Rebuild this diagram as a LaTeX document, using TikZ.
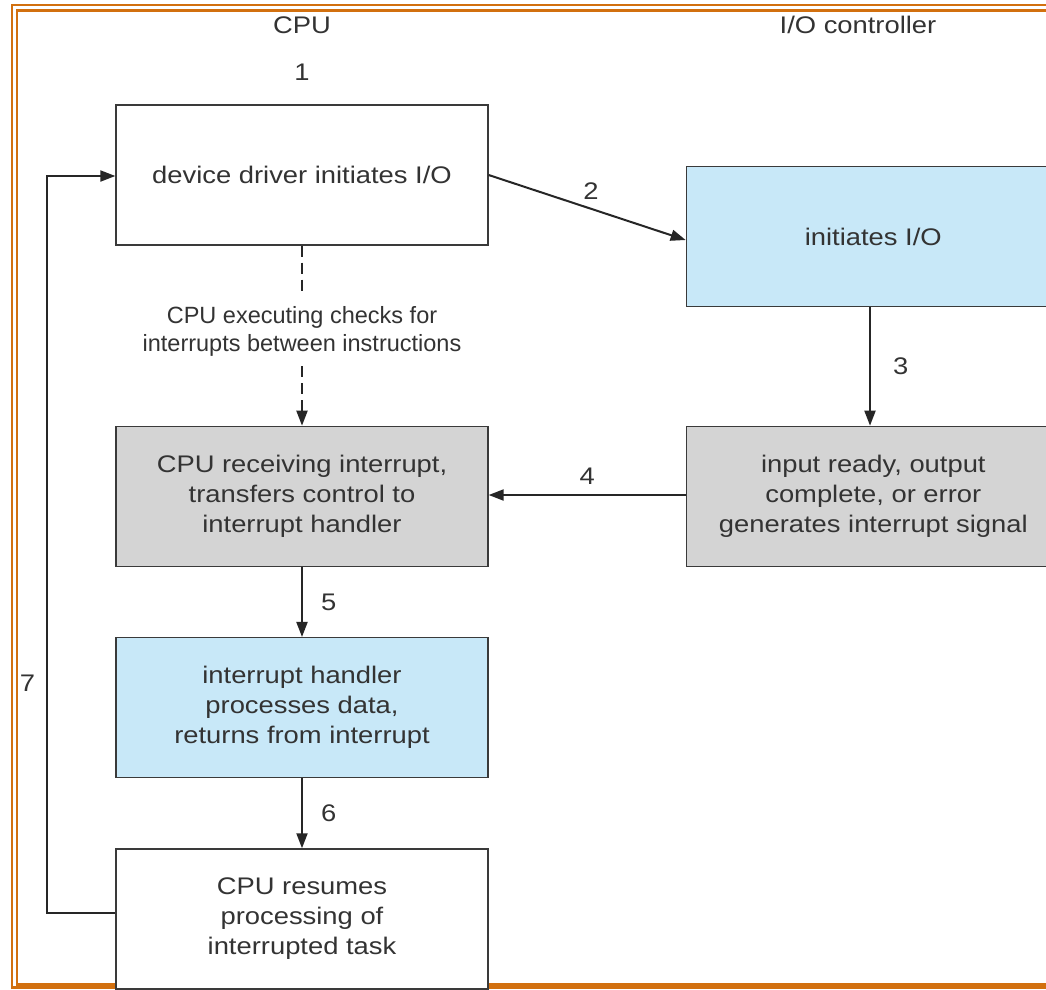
\documentclass[tikz,border=0pt]{standalone}
\usepackage{fontspec}
\setmainfont{Liberation Sans}
\newfontfamily\wideface[FakeStretch=1.14]{Liberation Sans}
\usepackage{xcolor}
\usetikzlibrary{arrows.meta,positioning,calc}
\definecolor{ioFrame}{HTML}{D2700F}
\definecolor{ioBlue}{HTML}{C8E8F8}
\definecolor{ioGray}{HTML}{D4D4D4}
\definecolor{ioInk}{HTML}{333333}
\definecolor{ioLine}{HTML}{3A3A3A}

\begin{document}
\begin{tikzpicture}[
  x=1pt, y=-1pt,
  >=Latex,
  every node/.style={text=ioInk, font=\wideface\fontsize{24}{30}\selectfont},
  box/.style={draw=ioLine, line width=1.3pt, align=center,
    minimum width=372pt, minimum height=140pt, inner sep=0pt},
  flow/.style={-{Triangle[length=15pt,width=11pt]}, line width=2pt, draw=black!85},
  lbl/.style={inner sep=2pt}
]
  \clip (0,0) rectangle (1046,989);
  \fill[white] (0,0) rectangle (1046,989);
  % frame
  \draw[ioFrame, line width=2.6pt] (12,5) rectangle (1070,987.5);
  \draw[ioFrame, line width=2.2pt] (17,10.5) rectangle (1064,984.5);

  % column heads
  \node (cpu) at (302,25) {CPU};
  \node (ioc) at (858,25) {I/O controller};
  \node (one) at (302,72) {1};

  % boxes
  \node[box,fill=white] (drv) at (302,175) {device driver initiates I/O};
  \node[box,fill=ioBlue,minimum width=374pt,right=197pt of drv,yshift=-61.5pt] (init) {initiates I/O};
  \node[box,fill=ioGray,below=180pt of drv] (recv) {CPU receiving interrupt,\\transfers control to\\interrupt handler};
  \node[box,fill=ioGray,minimum width=374pt,right=197pt of recv] (ready) {input ready, output\\complete, or error\\generates interrupt signal};
  \node[box,fill=ioBlue,below=70pt of recv] (hdl) {interrupt handler\\processes data,\\returns from interrupt};
  \node[box,fill=white,below=70pt of hdl] (res) {CPU resumes\\processing of\\interrupted task};
  \node[align=center,inner sep=0pt,minimum height=70pt,font=\fontsize{23.5}{28}\selectfont] (chk) at (302,331) {CPU executing checks for\\interrupts between instructions};
  \coordinate (back) at (47,0);

  % connectors
  \draw[flow] (drv.east) -- node[lbl,above,pos=0.52,yshift=6pt] {2} (init.west |- 0,240);
  \draw[line width=2pt, draw=black!85, dash pattern=on 11pt off 6pt] (drv.south) -- (chk.north);
  \draw[flow, dash pattern=on 11pt off 6pt] (chk.south) -- (recv.north);
  \draw[flow] (init.south -| 870,0) -- node[lbl,right=20pt] {3} (ready.north -| 870,0);
  \draw[flow] (ready.west |- 0,495) -- node[lbl,above=8pt] {4} (recv.east |- 0,495);
  \draw[flow] (recv.south) -- node[lbl,right=16pt] {5} (hdl.north);
  \draw[flow] (hdl.south) -- node[lbl,right=16pt] {6} (res.north);
  \draw[flow] (res.west |- 0,913) -| (back |- 0,683) node[lbl,left=9pt] {7} |- (drv.west |- 0,176);
\end{tikzpicture}
\end{document}
